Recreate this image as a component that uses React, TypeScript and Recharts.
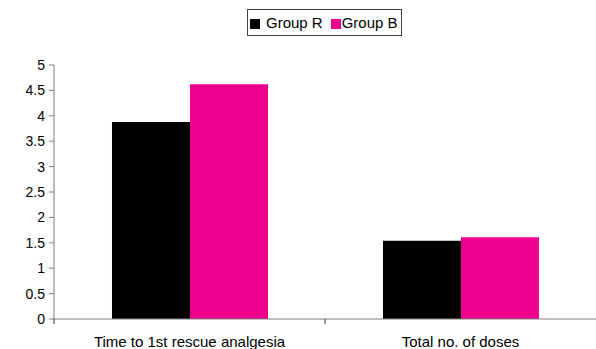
import { BarChart, Bar, XAxis, YAxis } from "recharts";

const categories = ["Time to 1st rescue analgesia", "Total no. of doses"];
const groupR = [3.88, 1.54];
const groupB = [4.62, 1.61];
const yTicks = [0, 0.5, 1, 1.5, 2, 2.5, 3, 3.5, 4, 4.5, 5];

const series = [
  { key: "groupR", name: "Group R", color: "#000000" },
  { key: "groupB", name: "Group B", color: "#EC008C" },
];

const data = categories.map((category, i) => ({
  category,
  groupR: groupR[i],
  groupB: groupB[i],
}));

const FONT = "'Liberation Sans', Arial, sans-serif";
const AXIS = "#7f7f7f";
const W = 596;
const H = 349;
const Y_AXIS_W = 54;
const TICK_SIZE = 5;
const TICK_MARGIN = 12;

// category labels, with a tick mark on the boundary left of each category
function CategoryTick(props: any) {
  const { x, y, payload } = props;
  const axisY = y - TICK_SIZE - TICK_MARGIN;
  const half = payload?.offset || (W - Y_AXIS_W) / categories.length / 2;
  return (
    <g>
      <line x1={x - half} x2={x - half} y1={axisY} y2={axisY + 5} stroke="#333" />
      <text x={x} y={axisY + 28} textAnchor="middle" fontSize={15} fontFamily={FONT} fill="#000">
        {payload.value}
      </text>
    </g>
  );
}

export default function App() {
  return (
    <div style={{ position: "absolute", left: 0, top: 0, width: W, height: H, background: "#fff" }}>
      <BarChart
        width={W}
        height={H}
        data={data}
        margin={{ top: 65, right: 0, bottom: 0, left: 0 }}
        barCategoryGap="21.4%"
        barGap={0}
      >
        <XAxis
          dataKey="category"
          height={30}
          stroke={AXIS}
          tickLine={false}
          tickSize={TICK_SIZE}
          tickMargin={TICK_MARGIN}
          interval={0}
          tick={(p: any) => <CategoryTick {...p} />}
        />
        <YAxis
          width={Y_AXIS_W}
          domain={[0, 5]}
          ticks={yTicks}
          interval={0}
          stroke={AXIS}
          tickSize={TICK_SIZE}
          tickMargin={4}
          tick={{ fontSize: 14, fontFamily: FONT, fill: "#000" }}
        />
        {series.map((s) => (
          <Bar key={s.key} dataKey={s.key} name={s.name} fill={s.color} isAnimationActive={false} />
        ))}
      </BarChart>
      <div
        style={{
          position: "absolute",
          left: 247,
          top: 9,
          width: 155,
          height: 27,
          boxSizing: "border-box",
          border: "1px solid #404040",
          display: "flex",
          alignItems: "center",
          paddingLeft: 2,
          fontFamily: FONT,
          fontSize: 15,
          color: "#000",
        }}
      >
        {series.map((s, i) => (
          <span key={s.key} style={{ display: "flex", alignItems: "center", marginLeft: i ? 8 : 0 }}>
            <span
              style={{
                width: 10,
                height: 10,
                background: s.color,
                marginRight: i ? 1 : 6,
                marginTop: 2,
              }}
            />
            {s.name}
          </span>
        ))}
      </div>
    </div>
  );
}
